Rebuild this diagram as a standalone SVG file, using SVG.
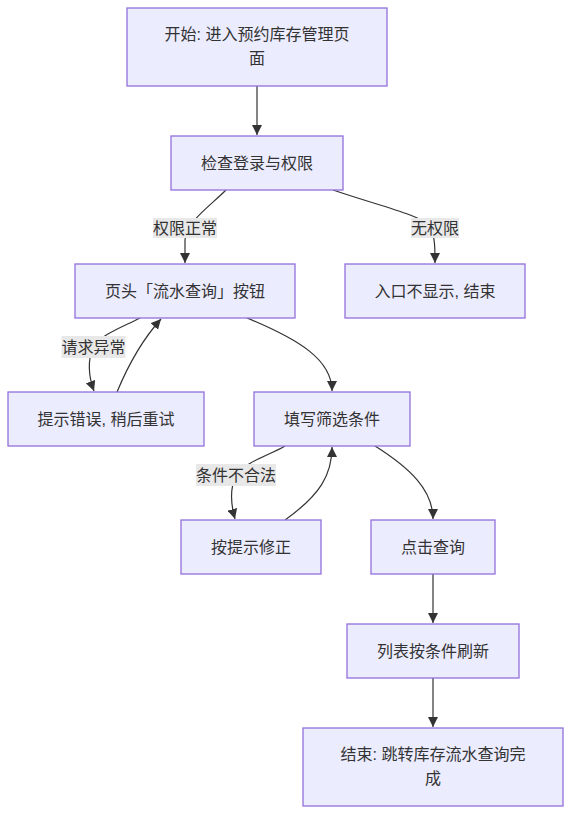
<svg xmlns="http://www.w3.org/2000/svg" width="571" height="814" viewBox="0 0 571 814">
<style>
.node rect{fill:#ECECFF;stroke:#9370DB;stroke-width:1.3}
text{font-family:"Liberation Sans","Noto Sans CJK SC",sans-serif;font-size:16px;fill:#333;text-anchor:middle;dominant-baseline:central}
.edge{fill:none;stroke:#333;stroke-width:1.2}
.lbl rect{fill:#e8e8e8}
</style>
<defs>
<marker id="arr" viewBox="0 0 10 10" refX="10" refY="5" markerWidth="10" markerHeight="10" markerUnits="userSpaceOnUse" orient="auto">
<path d="M0,0 L10,5 L0,10 z" fill="#333"/>
</marker>
</defs>
<rect width="571" height="814" fill="#fff"/>
<g id="edges">
<path class="edge" d="M257,86 L257,135" marker-end="url(#arr)"/>
<path class="edge" d="M226,190 C210,206 186,222 185,240 L185,263" marker-end="url(#arr)"/>
<path class="edge" d="M333,190 C380,206 420,215 430,226 C435,236 435,248 435,263" marker-end="url(#arr)"/>
<path class="edge" d="M140,318 C125,326 100,335 93,347 C88,360 88,375 94,391" marker-end="url(#arr)"/>
<path class="edge" d="M117,392 C127,368 142,340 161,319" marker-end="url(#arr)"/>
<path class="edge" d="M247,318 C300,340 332,360 332,391" marker-end="url(#arr)"/>
<path class="edge" d="M285,446 C270,455 245,462 236,475 C230,488 231,505 235,519" marker-end="url(#arr)"/>
<path class="edge" d="M285,520 C320,495 332,475 332,447" marker-end="url(#arr)"/>
<path class="edge" d="M375,446 C410,468 433,490 433,519" marker-end="url(#arr)"/>
<path class="edge" d="M433,574 L433,623" marker-end="url(#arr)"/>
<path class="edge" d="M433,678 L433,727" marker-end="url(#arr)"/>
</g>
<g id="labels">
<g class="lbl"><rect x="153" y="218" width="64" height="20"/><text x="185" y="228">权限正常</text></g>
<g class="lbl"><rect x="411" y="218" width="48" height="20"/><text x="435" y="228">无权限</text></g>
<g class="lbl"><rect x="61.5" y="336" width="64" height="22"/><text x="93.5" y="347">请求异常</text></g>
<g class="lbl"><rect x="196" y="464" width="80" height="22"/><text x="236" y="475">条件不合法</text></g>
</g>
<g id="A" class="node"><rect x="127" y="8" width="260" height="78"/><text x="257" y="34">开始: 进入预约库存管理页</text><text x="257" y="58">面</text></g>
<g id="B" class="node"><rect x="171" y="136" width="172" height="54"/><text x="257" y="163">检查登录与权限</text></g>
<g id="C" class="node"><rect x="75" y="264" width="220" height="54"/><text x="185" y="291">页头「流水查询」按钮</text></g>
<g id="D" class="node"><rect x="345" y="264" width="180" height="54"/><text x="435" y="291">入口不显示, 结束</text></g>
<g id="E" class="node"><rect x="8" y="392" width="196" height="54"/><text x="106" y="419">提示错误, 稍后重试</text></g>
<g id="F" class="node"><rect x="254" y="392" width="156" height="54"/><text x="332" y="419">填写筛选条件</text></g>
<g id="G" class="node"><rect x="181" y="520" width="140" height="54"/><text x="251" y="547">按提示修正</text></g>
<g id="H" class="node"><rect x="371" y="520" width="124" height="54"/><text x="433" y="547">点击查询</text></g>
<g id="I" class="node"><rect x="347" y="624" width="172" height="54"/><text x="433" y="651">列表按条件刷新</text></g>
<g id="J" class="node"><rect x="303" y="728" width="260" height="78"/><text x="433" y="754">结束: 跳转库存流水查询完</text><text x="433" y="778">成</text></g>
</svg>
